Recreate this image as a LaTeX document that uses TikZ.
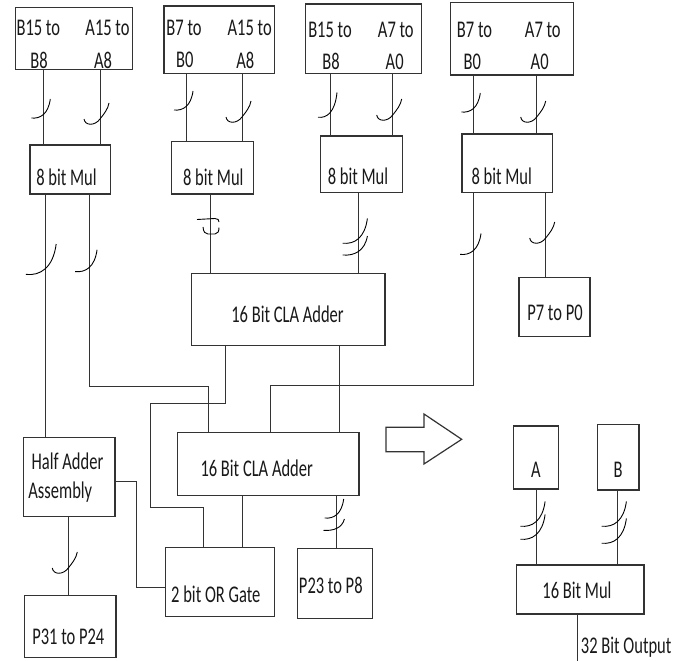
\documentclass[tikz,border=0pt]{standalone}
\usepackage{fontspec}
\setmainfont{Carlito}
\usepackage{graphicx}
\usetikzlibrary{fit}
\newcommand\stx[1]{\scalebox{1}[1.45]{#1}}
\begin{document}
\begin{tikzpicture}[x=1pt,y=-1pt,
 box/.style={draw=black!80, line width=1.2pt, inner sep=0pt, rectangle},
 wire/.style={draw=black!80, line width=1pt},
 mk/.style={draw=black, line width=0.9pt},
 lbl/.style={inner sep=0pt, text=black!90, font=\fontsize{16.5}{18}\selectfont},
 pics/bma/.style={code={\draw[mk] (-12,4) .. controls (-3,5) and (5,0) .. (7,-15);}},
 pics/bmb/.style={code={\draw[mk] (-16,2) .. controls (-15,9) and (-5,9) .. (0,2) .. controls (4,-3) and (8,-8) .. (9,-14);}}]
\useasboundingbox (0,0) rectangle (689,661);
\fill[white] (0,0) rectangle (689,661);

% boxes
\node[box, fit={(15.7,7.7) (132.7,69.3)}] (in1) {};
\node[box, fit={(164,6) (274.7,73.3)}] (in2) {};
\node[box, fit={(305.7,4) (421.7,73.3)}] (in3) {};
\node[box, fit={(450.7,2.7) (573.3,75)}] (in4) {};
\node[box, fit={(30,145) (110.7,194)}] (m1) {};
\node[box, fit={(171.7,141.7) (253.3,194)}] (m2) {};
\node[box, fit={(320.7,136) (402.7,192.7)}] (m3) {};
\node[box, fit={(462,134) (552.3,192.7)}] (m4) {};
\node[box, fit={(191.7,273.3) (385,345.7)}] (cla1) {};
\node[box, fit={(519,277.3) (590,336.7)}] (p70) {};
\node[box, fit={(177.3,432.3) (359,495.7)}] (cla2) {};
\node[box, fit={(23.3,437.3) (115,516.7)}] (ha) {};
\node[box, fit={(165.7,547.7) (274.7,616.7)}] (org) {};
\node[box, fit={(297.7,548.3) (372.3,618.3)}] (p238) {};
\node[box, fit={(24.3,595.7) (116,657.3)}] (p3124) {};
\node[box, fit={(513.3,426) (558.3,489)}] (ba) {};
\node[box, fit={(597.3,424.3) (639,490)}] (bb) {};
\node[box, fit={(516.7,565) (644,614)}] (mul16) {};

% labels
\node[lbl] (t1a) at (38.3,28) {\stx{B15 to}};
\node[lbl] (t1b) at (107.5,28) {\stx{A15 to}};
\node[lbl] (t1c) at (39,60) {\stx{B8}};
\node[lbl] (t1d) at (103,60) {\stx{A8}};
\node[lbl] (t2a) at (184,28) {\stx{B7 to}};
\node[lbl] (t2b) at (249.7,28) {\stx{A15 to}};
\node[lbl] (t2c) at (184.7,60) {\stx{B0}};
\node[lbl] (t2d) at (245.3,60) {\stx{A8}};
\node[lbl] (t3a) at (330,29.5) {\stx{B15 to}};
\node[lbl] (t3b) at (395.8,29.5) {\stx{A7 to}};
\node[lbl] (t3c) at (331,61.7) {\stx{B8}};
\node[lbl] (t3d) at (394.7,61.7) {\stx{A0}};
\node[lbl] (t4a) at (474.5,30) {\stx{B7 to}};
\node[lbl] (t4b) at (542.8,30) {\stx{A7 to}};
\node[lbl] (t4c) at (472.3,62) {\stx{B0}};
\node[lbl] (t4d) at (539.7,62) {\stx{A0}};
\node[lbl] (tm1) at (66.5,177) {\stx{8 bit Mul}};
\node[lbl] (tm2) at (213.3,177) {\stx{8 bit Mul}};
\node[lbl] (tm3) at (358,176.7) {\stx{8 bit Mul}};
\node[lbl] (tm4) at (501.7,176.7) {\stx{8 bit Mul}};
\node[lbl] (tcla1) at (287.5,314) {\stx{16 Bit CLA Adder}};
\node[lbl] (tcla2) at (256.7,468.3) {\stx{16 Bit CLA Adder}};
\node[lbl] (tp70) at (555,313.3) {\stx{P7 to P0}};
\node[lbl] (tha1) at (67.5,461.7) {\stx{Half Adder}};
\node[lbl] (tha2) at (60.3,491.7) {\stx{Assembly}};
\node[lbl] (tp3124) at (68.3,636.7) {\stx{P31 to P24}};
\node[lbl] (tor) at (215.8,594) {\stx{2 bit OR Gate}};
\node[lbl] (tp238) at (330.8,585) {\stx{P23 to P8}};
\node[lbl] (ta) at (536,470) {\stx{A}};
\node[lbl] (tb) at (618,470) {\stx{B}};
\node[lbl] (tmul16) at (577,590) {\stx{16 Bit Mul}};
\node[lbl] (tout) at (626.2,647.3) {\stx{32 Bit Output}};

% x positions / bend points
\coordinate (c1a) at (43.3,0); \coordinate (c1b) at (100,0);
\coordinate (c2a) at (186,0);  \coordinate (c2b) at (242,0);
\coordinate (c3a) at (330,0);  \coordinate (c3b) at (392.7,0);
\coordinate (c4a) at (473.3,0); \coordinate (c4b) at (536.7,0);
\coordinate (d1a) at (45,0); \coordinate (d1b) at (89,0);
\coordinate (d2) at (210.7,0); \coordinate (d3) at (358.3,0);
\coordinate (d4b) at (545.7,0);
\coordinate (f1) at (208.7,386); \coordinate (f2) at (270,385);
\coordinate (e1) at (225.7,0); \coordinate (e2) at (339.3,0);
\coordinate (k1) at (150.7,403.3); \coordinate (k2) at (203.3,507);
\coordinate (g1) at (242.3,0); \coordinate (g2) at (336.7,0);
\coordinate (k3) at (136.7,481.7); \coordinate (k5) at (0,587.3);
\coordinate (hb) at (68.3,0);
\coordinate (xa) at (536,0); \coordinate (xb) at (617.3,0);
\coordinate (xo) at (577.3,0); \coordinate (oend) at (577.3,661);

% connectors
\draw[wire] (in1.south -| c1a) -- (m1.north -| c1a);
\draw[wire] (in1.south -| c1b) -- (m1.north -| c1b);
\draw[wire] (in2.south -| c2a) -- (m2.north -| c2a);
\draw[wire] (in2.south -| c2b) -- (m2.north -| c2b);
\draw[wire] (in3.south -| c3a) -- (m3.north -| c3a);
\draw[wire] (in3.south -| c3b) -- (m3.north -| c3b);
\draw[wire] (in4.south -| c4a) -- (m4.north -| c4a);
\draw[wire] (in4.south -| c4b) -- (m4.north -| c4b);
\draw[wire] (m1.south -| d1a) -- (ha.north -| d1a);
\draw[wire] (m1.south -| d1b) |- (f1) -- (cla2.north -| f1);
\draw[wire] (m2.south -| d2) -- (cla1.north -| d2);
\draw[wire] (m3.south -| d3) -- (cla1.north -| d3);
\draw[wire] (m4.south -| c4a) |- (f2) -- (cla2.north -| f2);
\draw[wire] (m4.south -| d4b) -- (p70.north -| d4b);
\draw[wire] (cla1.south -| e1) |- (k1) |- (k2) -- (org.north -| k2);
\draw[wire] (cla1.south -| e2) -- (cla2.north -| e2);
\draw[wire] (cla2.south -| g1) -- (org.north -| g1);
\draw[wire] (cla2.south -| g2) -- (p238.north -| g2);
\draw[wire] (ha.east |- k3) -- (k3) |- (org.west |- k5);
\draw[wire] (ha.south -| hb) -- (p3124.north -| hb);
\draw[wire] (ba.south -| xa) -- (mul16.north -| xa);
\draw[wire] (bb.south -| xb) -- (mul16.north -| xb);
\draw[wire] (mul16.south -| xo) -- (oend);

% bus marks
\pic at (43.3,114) {bma};
\pic at (100,117) {bmb};
\pic at (186,106) {bma};
\pic at (242,115) {bmb};
\pic[yscale=1.3] at (330,112) {bma};
\pic at (392.7,113) {bmb};
\pic at (473.3,108) {bma};
\pic at (536.7,115) {bmb};
\pic[scale=1.6] at (45,268) {bma};
\pic[scale=1.15] at (89,267) {bma};
\draw[mk] (197,219.5) -- (215,218.5) .. controls (218,218.5) and (219,220) .. (219,222);
\draw[mk] (203,227) .. controls (203.5,232) and (205,234) .. (208,234) -- (215,234) .. controls (218,234) and (219,231) .. (219,227.5);
\pic[scale=1.3] at (358.3,238) {bma};
\pic[xscale=1.3] at (358.3,251) {bma};
\pic[scale=1.1] at (473.3,250) {bma};
\pic at (545.7,236) {bmb};
\pic at (336.7,514) {bma};
\pic[yscale=0.6,xscale=1.1] at (336.7,528) {bma};
\pic at (68.3,566) {bmb};
\pic[scale=1.3] at (536,521) {bma};
\pic[scale=1.3] at (536,534) {bma};
\pic[scale=1.3] at (617.3,521) {bma};
\pic[scale=1.3] at (617.3,538) {bma};

% big outline arrow
\draw[box] (386,427.3) -- (424,427.3) -- (424,414) -- (461.7,439.3) -- (424,464) -- (424,451.7) -- (386,451.7) -- cycle;
\end{tikzpicture}
\end{document}
